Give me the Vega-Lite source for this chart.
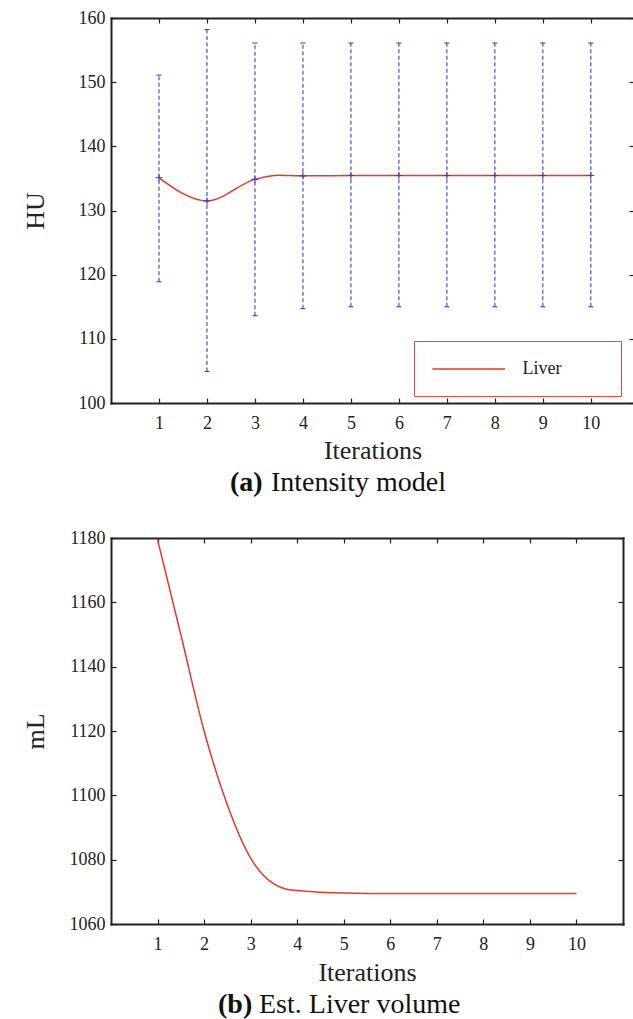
{
  "$schema": "https://vega.github.io/schema/vega-lite/v6.json",
  "padding": {"left": 22, "top": 9, "right": 0, "bottom": 0},
  "spacing": 32,
  "config": {
    "font": "Liberation Serif",
    "view": {"stroke": null},
    "legend": {"strokeWidth": 1},
    "axis": {
      "grid": false,
      "domainColor": "#222",
      "domainWidth": 2,
      "domainCap": "square",
      "tickColor": "#222",
      "tickWidth": 1.2,
      "tickSize": -5,
      "labelFont": "Liberation Serif",
      "labelFontSize": 18,
      "labelColor": "#222",
      "labelPadding": 11,
      "titleFont": "Liberation Serif",
      "titleFontSize": 26,
      "titleFontWeight": "normal",
      "titleColor": "#222"
    },
    "axisX": {"labelPadding": 16},
    "title": {"font": "Liberation Serif", "fontSize": 28, "color": "#111", "fontWeight": "normal"}
  },
  "datasets": {
    "errA": [
      {"it": 1, "lo": 118.9, "hi": 151.1, "m": 135.1},
      {"it": 2, "lo": 104.9, "hi": 158.2, "m": 131.5},
      {"it": 3, "lo": 113.6, "hi": 156.1, "m": 134.85},
      {"it": 4, "lo": 114.7, "hi": 156.1, "m": 135.4},
      {"it": 5, "lo": 115.0, "hi": 156.1, "m": 135.45},
      {"it": 6, "lo": 115.0, "hi": 156.1, "m": 135.45},
      {"it": 7, "lo": 115.0, "hi": 156.1, "m": 135.45},
      {"it": 8, "lo": 115.0, "hi": 156.1, "m": 135.45},
      {"it": 9, "lo": 115.0, "hi": 156.1, "m": 135.45},
      {"it": 10, "lo": 115.0, "hi": 156.1, "m": 135.45}
    ],
    "lineA": [
      {"it": 1, "hu": 135.1, "series": "Liver"},
      {"it": 2, "hu": 131.5, "series": "Liver"},
      {"it": 3, "hu": 134.85, "series": "Liver"},
      {"it": 3.5, "hu": 135.5, "series": "Liver"},
      {"it": 4, "hu": 135.4, "series": "Liver"},
      {"it": 5, "hu": 135.45, "series": "Liver"},
      {"it": 6, "hu": 135.45, "series": "Liver"},
      {"it": 7, "hu": 135.45, "series": "Liver"},
      {"it": 8, "hu": 135.45, "series": "Liver"},
      {"it": 9, "hu": 135.45, "series": "Liver"},
      {"it": 10, "hu": 135.45, "series": "Liver"}
    ],
    "lineB": [
      {"it": 1, "ml": 1179.5},
      {"it": 1.5, "ml": 1150},
      {"it": 2, "ml": 1120},
      {"it": 2.5, "ml": 1097},
      {"it": 3, "ml": 1080.5},
      {"it": 3.25, "ml": 1075.5},
      {"it": 3.5, "ml": 1072.5},
      {"it": 3.75, "ml": 1070.9},
      {"it": 4, "ml": 1070.4},
      {"it": 4.5, "ml": 1069.9},
      {"it": 5, "ml": 1069.6},
      {"it": 5.5, "ml": 1069.5},
      {"it": 6, "ml": 1069.5},
      {"it": 7, "ml": 1069.5},
      {"it": 8, "ml": 1069.5},
      {"it": 9, "ml": 1069.5},
      {"it": 10, "ml": 1069.5}
    ]
  },
  "vconcat": [
    {
      "title": {"text": "(a)", "orient": "bottom", "anchor": "start", "fontWeight": "bold", "offset": 0, "dx": 208, "dy": -28},
      "vconcat": [
        {
          "width": 523,
          "height": 385,
          "title": {"text": "Intensity model", "orient": "bottom", "anchor": "start", "frame": "group", "dx": 160, "offset": 6},
          "layer": [
            {
              "data": {"name": "errA"},
              "mark": {"type": "rule", "color": "#3f3fc4", "strokeDash": [4, 2.5], "strokeWidth": 1.1},
              "encoding": {
                "x": {"field": "it", "type": "quantitative", "scale": {"domain": [0, 10.9], "nice": false, "zero": false},
                      "axis": {"orient": "top", "labels": false, "title": null, "values": [1,2,3,4,5,6,7,8,9,10]}},
                "y": {"field": "lo", "type": "quantitative", "scale": {"domain": [100, 160], "nice": false, "zero": false},
                      "axis": {"orient": "right", "labels": false, "title": null, "domain": false, "values": [100,110,120,130,140,150,160]}},
                "y2": {"field": "hi"}
              }
            },
            {
              "data": {"name": "errA"},
              "mark": {"type": "tick", "orient": "horizontal", "size": 5, "thickness": 1.1, "color": "#3f3fc4", "opacity": 1},
              "encoding": {
                "x": {"field": "it", "type": "quantitative", "axis": null},
                "y": {"field": "hi", "type": "quantitative", "axis": null}
              }
            },
            {
              "data": {"name": "errA"},
              "mark": {"type": "tick", "orient": "horizontal", "size": 5, "thickness": 1.1, "color": "#3f3fc4", "opacity": 1},
              "encoding": {
                "x": {"field": "it", "type": "quantitative", "axis": null},
                "y": {"field": "lo", "type": "quantitative", "axis": null}
              }
            },
            {
              "data": {"name": "lineA"},
              "mark": {"type": "line", "interpolate": "monotone", "strokeWidth": 1.5},
              "encoding": {
                "x": {"field": "it", "type": "quantitative",
                      "axis": {"orient": "bottom", "title": "Iterations", "values": [1,2,3,4,5,6,7,8,9,10], "titlePadding": 5}},
                "y": {"field": "hu", "type": "quantitative",
                      "axis": {"orient": "left", "title": "HU", "format": "d", "values": [100,110,120,130,140,150,160], "minExtent": 48, "maxExtent": 48, "titlePadding": 15}},
                "color": {"field": "series", "type": "nominal", "scale": {"range": ["#e3392e"]},
                          "legend": {"orient": "none", "legendX": 303, "legendY": 323, "title": null, "strokeColor": "#e34a40", "fillColor": "white", "padding": 18, "symbolType": "M-1.08,0H7M17.5,0", "symbolSize": 324, "symbolStrokeWidth": 1.5, "labelFont": "Liberation Serif", "labelFontSize": 18, "labelColor": "#222", "labelOffset": 70.5}}
              }
            },
            {
              "data": {"name": "errA"},
              "mark": {"type": "point", "shape": "M-1,0H1M0,-1V1", "size": 49, "filled": false, "stroke": "#3f3fc4", "strokeWidth": 1.1, "opacity": 1},
              "encoding": {
                "x": {"field": "it", "type": "quantitative", "axis": null},
                "y": {"field": "m", "type": "quantitative", "axis": null}
              }
            }
          ],
          "resolve": {"axis": {"x": "independent", "y": "independent"}}
        }
      ]
    },
    {
      "title": {"text": "(b)", "orient": "bottom", "anchor": "start", "fontWeight": "bold", "offset": 0, "dx": 196, "dy": -28},
      "vconcat": [
        {
          "width": 512,
          "height": 386,
          "title": {"text": "Est. Liver volume", "orient": "bottom", "anchor": "start", "frame": "group", "dx": 148, "offset": 6},
          "layer": [
            {
              "data": {"name": "lineB"},
              "mark": {"type": "line", "interpolate": "monotone", "strokeWidth": 1.5, "color": "#e3392e"},
              "encoding": {
                "x": {"field": "it", "type": "quantitative", "scale": {"domain": [0, 11], "nice": false, "zero": false},
                      "axis": {"orient": "bottom", "title": "Iterations", "values": [1,2,3,4,5,6,7,8,9,10], "titlePadding": 6}},
                "y": {"field": "ml", "type": "quantitative", "scale": {"domain": [1060, 1180], "nice": false, "zero": false},
                      "axis": {"orient": "left", "title": "mL", "format": "d", "values": [1060,1080,1100,1120,1140,1160,1180], "minExtent": 48, "maxExtent": 48, "titlePadding": 15}}
              }
            },
            {
              "data": {"name": "lineB"},
              "mark": {"type": "line", "strokeOpacity": 0},
              "encoding": {
                "x": {"field": "it", "type": "quantitative",
                      "axis": {"orient": "top", "labels": false, "title": null, "values": [1,2,3,4,5,6,7,8,9,10]}},
                "y": {"field": "ml", "type": "quantitative",
                      "axis": {"orient": "right", "labels": false, "title": null, "values": [1060,1080,1100,1120,1140,1160,1180]}}
              }
            }
          ],
          "resolve": {"axis": {"x": "independent", "y": "independent"}}
        }
      ]
    }
  ]
}
